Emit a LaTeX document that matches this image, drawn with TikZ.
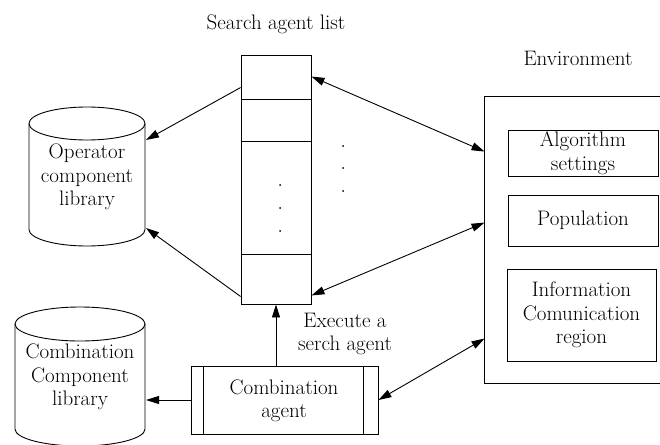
\documentclass[tikz,border=0pt]{standalone}
\usetikzlibrary{arrows.meta,calc}
\begin{document}
\begin{tikzpicture}[x=1pt,y=-1pt,line width=0.9pt,
  every node/.style={font=\fontsize{21}{23.5}\selectfont,align=center},
  box/.style={draw,rectangle,inner sep=0pt},
  tip/.tip={Triangle[length=13pt,width=8pt]},
  link/.style={-tip},
  dlink/.style={tip-tip},
  dotmark/.style={circle,fill,inner sep=0pt,minimum size=2pt}]
\useasboundingbox (0,0) rectangle (660,444);

% search agent list
\node (listlabel) at (276,24) {Search agent list};
\node[box,minimum width=70,minimum height=249] (list) at (276,179.5) {};
\foreach \d in {45,87,200}
  \draw ($(list.north west)+(0,\d)$) -- ($(list.north east)+(0,\d)$);
\foreach \y [count=\i] in {185,208,231}
  \node[dotmark] (ld\i) at (280,\y) {};
\foreach \y [count=\i] in {146,168,191}
  \node[dotmark] (md\i) at (343,\y) {};

% operator component library (cylinder)
\draw (87,123.5) ellipse [x radius=58,y radius=16.5];
\draw (29,123.5) -- (29,229.5) arc[start angle=180,end angle=0,x radius=58,y radius=16.5] -- (145,123.5);
\node (oplib) at (87,177) {Operator\\component\\library};
\coordinate (opin1) at (146,140);
\coordinate (opin2) at (146,228);

% combination component library (cylinder)
\draw (80,324) ellipse [x radius=65,y radius=17];
\draw (15,324) -- (15,429) arc[start angle=180,end angle=0,x radius=65,y radius=17] -- (145,324);
\node (comblib) at (80,377) {Combination\\Component\\library};
\coordinate (cbin) at (146,400);

% combination agent
\node[box,minimum width=187,minimum height=68] (agent) at (284.5,400) {};
\draw ($(agent.north west)+(13,0)$) -- ($(agent.south west)+(13,0)$);
\draw ($(agent.north east)+(-15,0)$) -- ($(agent.south east)+(-15,0)$);
\node (agenttext) at (284,401) {Combination\\agent};
\node (exec) at (345,334) {Execute a\\serch agent};

% environment
\node (envlabel) at (578,58) {Environment};
\node[minimum width=177,minimum height=286,inner sep=0pt] (env) at (573.5,240) {};
\draw (env.north east) -- (env.north west) -- (env.south west) -- (env.south east);
\node[box,minimum width=150,minimum height=46] (alg) at (583,153) {};
\node (algtext) at (583,153) {Algorithm\\settings};
\node[box,minimum width=150,minimum height=51] (pop) at (583,220.5) {Population};
\node[box,minimum width=149,minimum height=92] (info) at (581.5,315) {};
\node (infotext) at (581.5,315) {Information\\Comunication\\region};

% connectors
\draw[link] ($(list.north west)+(0,33)$) -- (opin1);
\draw[link] ($(list.south west)+(0,-8)$) -- (opin2);
\draw[link] (list.south |- agent.north) -- (list.south);
\draw[link] (agent.west) -- (cbin);
\draw[dlink] ($(list.north east)+(0,22)$) -- ($(env.north west)+(0,55)$);
\draw[dlink] ($(list.south east)+(0,-9)$) -- ($(env.north west)+(0,126)$);
\draw[dlink] (agent.east) -- ($(env.north west)+(0,242)$);
\end{tikzpicture}
\end{document}
